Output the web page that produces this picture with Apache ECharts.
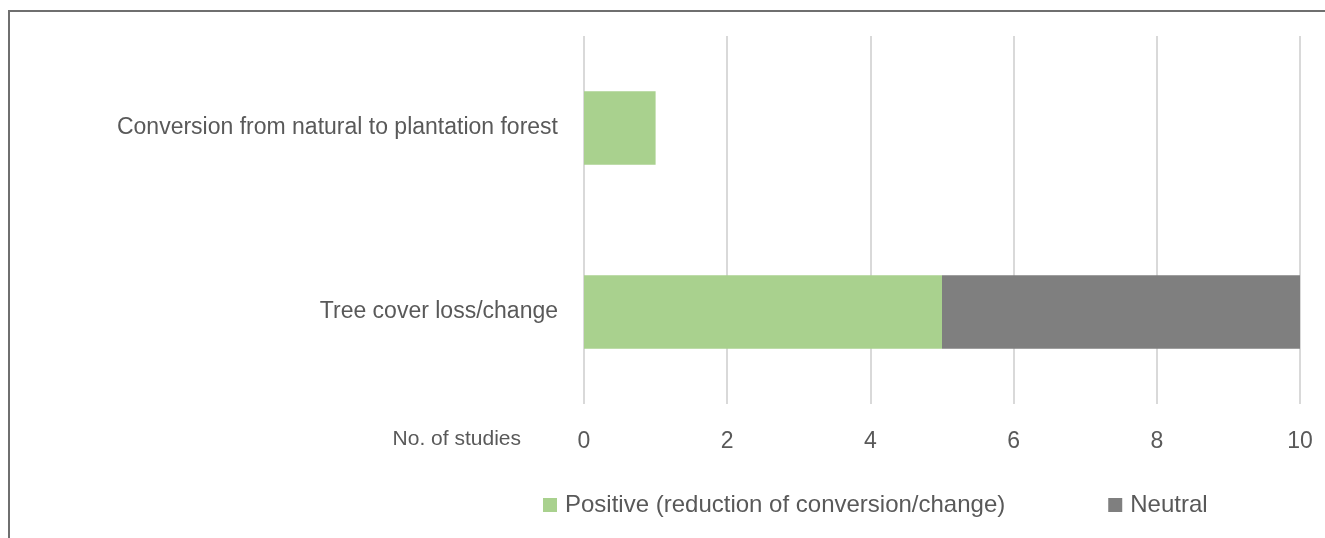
<!DOCTYPE html>
<html><head><meta charset="utf-8">
<script src="https://cdn.jsdelivr.net/npm/echarts@6/dist/echarts.min.js"></script>
<style>html,body{margin:0;padding:0;background:#fff}#c{width:1325px;height:538px}</style>
</head><body><div id="c"></div>
<script>
const categories = ['Tree cover loss/change', 'Conversion from natural to plantation forest'];
const positive = [5, 1];
const neutral = [5, 0];
const seriesNames = ['Positive (reduction of conversion/change)', 'Neutral'];
const FONT = '"Liberation Sans", Arial, sans-serif';
const chart = echarts.init(document.getElementById('c'));
chart.setOption({
  animation: false,
  textStyle: {fontFamily: FONT},
  grid: {left: 584, right: 25, top: 36, bottom: 134},
  xAxis: {
    type: 'value', min: 0, max: 10, interval: 2,
    axisLine: {show: false}, axisTick: {show: false},
    splitLine: {lineStyle: {color: '#d9d9d9', width: 2}},
    axisLabel: {color: '#595959', fontSize: 23, margin: 26, fontFamily: FONT}
  },
  yAxis: {
    type: 'category', data: categories,
    axisLine: {show: false}, axisTick: {show: false},
    axisLabel: {color: '#595959', fontSize: 23, margin: 26, fontFamily: FONT}
  },
  legend: {
    top: 488, left: 538, itemWidth: 14, itemHeight: 14, itemGap: 103,
    icon: 'rect',
    textStyle: {color: '#595959', fontSize: 24, fontFamily: FONT, padding: [0, 0, 0, 3]},
    data: seriesNames
  },
  series: [
    {name: seriesNames[0], type: 'bar', stack: 's', data: positive, barWidth: '40%', itemStyle: {color: '#a9d18e'}},
    {name: seriesNames[1], type: 'bar', stack: 's', data: neutral, barWidth: '40%', itemStyle: {color: '#7f7f7f'}}
  ],
  graphic: [
    {type: 'line', shape: {x1: 8, y1: 11, x2: 1325, y2: 11}, style: {stroke: '#6f6f6f', lineWidth: 2}},
    {type: 'line', shape: {x1: 9, y1: 10, x2: 9, y2: 538}, style: {stroke: '#6f6f6f', lineWidth: 2}},
    {type: 'text', right: 1325 - 521, top: 429, style: {text: 'No. of studies', fill: '#595959', font: '21px ' + FONT}}
  ]
});
</script></body></html>
